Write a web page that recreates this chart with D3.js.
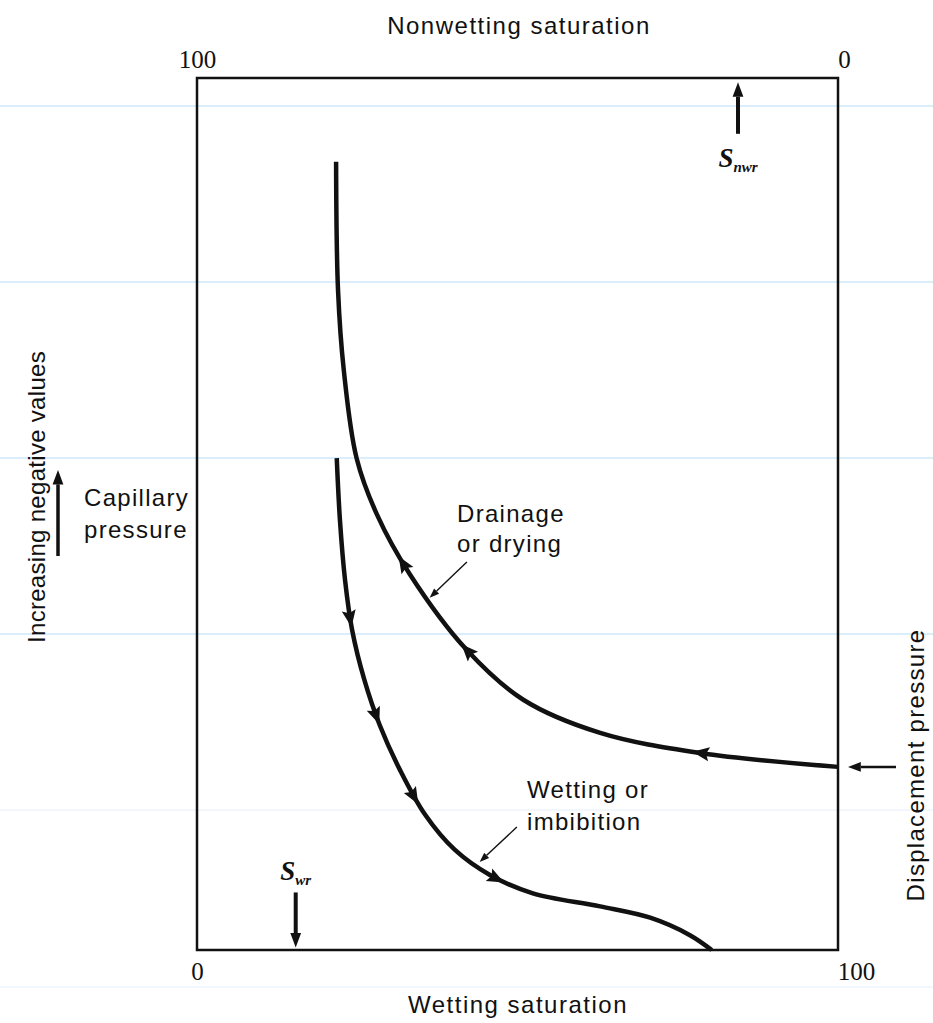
<!DOCTYPE html>
<html>
<head>
<meta charset="utf-8">
<script src="https://cdn.jsdelivr.net/npm/d3@7"></script>
<style>
  body { margin: 0; background: #fff; }
  text { font-family: "Liberation Sans", Arial, sans-serif; fill: #111; }
</style>
</head>
<body>
<svg id="chart" width="933" height="1023"></svg>
<script>
// wetting saturation (%) vs capillary pressure (relative, 0-100)
var drainX = [21.7, 22.0, 22.9, 24.9, 28.1, 33.2, 42.1, 50.9, 62.9, 78.5, 100];
var drainY = [90.4, 75.7, 66.5, 56.4, 49.9, 43.1, 34.4, 28.7, 24.9, 22.6, 21.0];
var wetX = [21.8, 22.3, 23.1, 24.2, 26.1, 28.5, 31.7, 35.6, 40.2, 45.7, 52.4, 62.9, 70.7, 76.9, 80.3];
var wetY = [56.4, 49.3, 42.4, 36.7, 31.0, 25.8, 20.6, 15.5, 11.5, 8.6, 6.5, 5.0, 3.7, 1.7, 0];

// where the direction arrowheads sit (wetting saturation)
var drainArrows = [32.1, 42.1, 78.5];
var wetArrows = [23.9, 28.0, 33.9, 46.8];

var bottomTicks = [0, 100];
var topTicks = [100, 0];
var swr = 15.4;       // residual wetting saturation
var snwr = 15.6;      // residual nonwetting saturation
var displacement = 21.0;

var svg = d3.select("#chart");

var x = d3.scaleLinear().domain([0, 100]).range([197, 838]);
var xTop = d3.scaleLinear().domain([100, 0]).range([197, 838]);
var y = d3.scaleLinear().domain([0, 100]).range([950, 78]);

// faint scan lines from the original page
[106, 282, 458, 634, 810, 987].forEach(function (yy, i) {
    svg.append("line")
        .attr("x1", 0).attr("x2", 933)
        .attr("y1", yy).attr("y2", yy)
        .attr("stroke", i < 4 ? "#b5dcf7" : "#e3f0fa")
        .attr("stroke-width", 1);
});

// frame
svg.append("rect")
    .attr("x", x(0)).attr("y", y(100))
    .attr("width", x(100) - x(0)).attr("height", y(0) - y(100))
    .attr("fill", "none").attr("stroke", "#111").attr("stroke-width", 2.5);

// axes (labels only)
var bottomAxis = svg.append("g")
    .attr("transform", "translate(0," + y(0) + ")")
    .call(d3.axisBottom(x).tickValues(bottomTicks).tickSize(0).tickPadding(12));
var topAxis = svg.append("g")
    .attr("transform", "translate(0," + y(100) + ")")
    .call(d3.axisTop(xTop).tickValues(topTicks).tickSize(0).tickPadding(10));
[bottomAxis, topAxis].forEach(function (g) {
    g.select(".domain").remove();
    g.selectAll("text")
        .style("font-family", "'Liberation Serif', 'Times New Roman', serif")
        .style("font-size", "25px")
        .attr("fill", "#111");
});
bottomAxis.selectAll(".tick").filter(function (d) { return d == 100; })
    .select("text").attr("dx", 18);
topAxis.selectAll(".tick").filter(function (d) { return d == 0; })
    .select("text").attr("dx", 6);

svg.append("text").attr("x", 519).attr("y", 34)
    .attr("text-anchor", "middle").style("font-size", "24px").style("letter-spacing", "1.5px")
    .text("Nonwetting saturation");
svg.append("text").attr("x", 518).attr("y", 1013)
    .attr("text-anchor", "middle").style("font-size", "24px").style("letter-spacing", "1.5px")
    .text("Wetting saturation");

// curves
var line = d3.line()
    .x(function (d) { return x(d[0]); })
    .y(function (d) { return y(d[1]); })
    .curve(d3.curveCatmullRom.alpha(0.5));

var drainPath = svg.append("path")
    .datum(d3.zip(drainX, drainY))
    .attr("d", line)
    .attr("fill", "none").attr("stroke", "#111").attr("stroke-width", 4.5);

var wetPath = svg.append("path")
    .datum(d3.zip(wetX, wetY))
    .attr("d", line)
    .attr("fill", "none").attr("stroke", "#111").attr("stroke-width", 4.5);

// put a filled arrowhead on a path where it crosses x = xv
var arrowOnPath = function (path, xv, reverse)
{
    var node = path.node();
    var total = node.getTotalLength();
    var target = x(xv);
    var lo = 0, hi = total;
    for (var i = 0; i < 40; i++)
    {
        var mid = (lo + hi) / 2;
        if (node.getPointAtLength(mid).x < target) lo = mid;
        else hi = mid;
    }
    var p = node.getPointAtLength(lo);
    var q = node.getPointAtLength(Math.min(total, lo + 2));
    var ang = Math.atan2(q.y - p.y, q.x - p.x) * 180 / Math.PI;
    if (reverse) ang += 180;
    svg.append("path")
        .attr("d", "M8,0 L-9,-7 L-6,0 L-9,7 Z")
        .attr("transform", "translate(" + p.x + "," + p.y + ") rotate(" + ang + ")")
        .attr("fill", "#111");
};

drainArrows.forEach(function (v) { arrowOnPath(drainPath, v, true); });
wetArrows.forEach(function (v) { arrowOnPath(wetPath, v, false); });

// simple straight arrow
var arrow = function (x1, y1, x2, y2, w, head)
{
    var ang = Math.atan2(y2 - y1, x2 - x1);
    var bx = x2 - Math.cos(ang) * head * 1.6, by = y2 - Math.sin(ang) * head * 1.6;
    svg.append("line")
        .attr("x1", x1).attr("y1", y1).attr("x2", bx).attr("y2", by)
        .attr("stroke", "#111").attr("stroke-width", w);
    var px = -Math.sin(ang) * head * 0.6, py = Math.cos(ang) * head * 0.6;
    svg.append("path")
        .attr("d", "M" + x2 + "," + y2 + " L" + (bx + px) + "," + (by + py) +
                   " L" + (bx - px) + "," + (by - py) + " Z")
        .attr("fill", "#111");
};

// label pointers
arrow(x(42.1), y(44.5), x(36.3), y(40.4), 1.4, 6);
arrow(x(49.9), y(14.1), x(44.1), y(10.1), 1.4, 6);

// residual saturation markers
arrow(xTop(snwr), y(93.6), xTop(snwr), y(99.5), 4, 9);
arrow(x(swr), y(6.6), x(swr), y(0.3), 4, 9);

// displacement pressure marker
arrow(896, y(displacement), 848, y(displacement), 2.5, 8);

// capillary pressure arrow
arrow(58, 556, 58, 470, 3.5, 9);

// labels
var label = function (tx, ty, lines, size, lh)
{
    var t = svg.append("text").attr("x", tx).attr("y", ty)
        .style("font-size", size + "px").style("letter-spacing", "1.3px");
    lines.forEach(function (s, i) {
        t.append("tspan").attr("x", tx).attr("dy", i == 0 ? 0 : lh).text(s);
    });
    return t;
};
label(457, 522, ["Drainage", "or drying"], 24, 30);
label(527, 798, ["Wetting or", "imbibition"], 24, 32);
label(84, 506, ["Capillary", "pressure"], 24, 32);

svg.append("text")
    .attr("transform", "translate(45,497) rotate(-90)")
    .attr("text-anchor", "middle").style("font-size", "24px").style("letter-spacing", "0.3px")
    .text("Increasing negative values");
svg.append("text")
    .attr("transform", "translate(924,765) rotate(-90)")
    .attr("text-anchor", "middle").style("font-size", "24px").style("letter-spacing", "1.3px")
    .text("Displacement pressure");

// S_nwr and S_wr
var sLabel = function (tx, ty, sub)
{
    var t = svg.append("text").attr("x", tx).attr("y", ty)
        .attr("text-anchor", "middle")
        .style("font-family", "'Liberation Serif', 'Times New Roman', serif")
        .style("font-style", "italic").style("font-weight", "bold");
    t.append("tspan").style("font-size", "27px").text("S");
    t.append("tspan").style("font-size", "15px").attr("dy", 5).text(sub);
};
sLabel(xTop(snwr), 167, "nwr");
sLabel(x(swr), 880, "wr");
</script>
</body>
</html>
